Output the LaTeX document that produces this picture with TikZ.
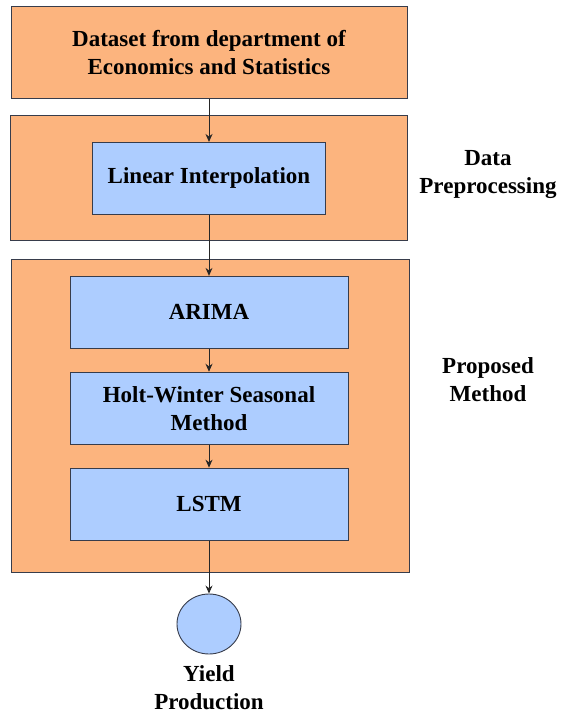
\documentclass[tikz,border=0pt]{standalone}
\usepackage{fontspec}
\setmainfont{Liberation Serif}
\usetikzlibrary{positioning}
\usetikzlibrary{arrows.meta}
\usetikzlibrary{calc, shapes, fit, backgrounds}
\definecolor{boxOrange}{RGB}{252,180,126}
\definecolor{boxBlue}{RGB}{173,205,255}
\definecolor{edgeGray}{RGB}{55,60,75}
\tikzset{%
	% Specifications for style of nodes:
	base/.style = {rectangle, draw=edgeGray, line width=0.9pt,
		inner sep=0pt, text centered, align=center,
		font=\fontsize{23}{28}\selectfont\bfseries},
	outerStage/.style = {base, fill=boxOrange},
	innerStep/.style = {base, fill=boxBlue, minimum width=278pt, minimum height=72pt},
	sideLabel/.style = {align=center, font=\fontsize{23}{28}\selectfont\bfseries},
	flow/.style = {-{Stealth[length=8pt,width=7pt]}, line width=0.9pt, draw=black!85},
}
\begin{document}
\begin{tikzpicture}[x=1pt, y=1pt]
\useasboundingbox (0,0) rectangle (561,-717);

\node (dataset) [outerStage, minimum width=396pt, minimum height=92pt] at (209,-52.5) {Dataset from department of\\Economics and Statistics};
\node (interp) [innerStep, minimum width=233pt, below=43pt of dataset] {Linear Interpolation};
\node (arima) [innerStep, below=61pt of interp] {ARIMA};
\node (holt) [innerStep, below=23pt of arima] {Holt-Winter Seasonal\\Method};
\node (lstm) [innerStep, below=23pt of holt] {LSTM};
\node (yield) [ellipse, draw=edgeGray, line width=0.9pt, fill=boxBlue, minimum width=64pt, minimum height=60pt, below=53pt of lstm] {};
\node (yieldText) [sideLabel, below=8pt of yield] {Yield\\Production};

\coordinate (prepNW) at ($(dataset.south west)+(0,-16)$);
\coordinate (prepSE) at ($(dataset.south east)+(0,-141)$);
\coordinate (propNW) at ($(arima.north west)+(-58,16)$);
\coordinate (propSE) at ($(lstm.south east)+(61,-32)$);
\begin{scope}[on background layer]
	\node (prepBox) [outerStage, fit=(prepNW)(prepSE)] {};
	\node (propBox) [outerStage, fit=(propNW)(propSE)] {};
\end{scope}

\node (prepText) [sideLabel] at (488,-175) {Data\\Preprocessing};
\node (propText) [sideLabel] at (488,-380) {Proposed\\Method};

\draw[flow] (dataset) -- (interp);
\draw[flow] (interp) -- (arima);
\draw[flow] (arima) -- (holt);
\draw[flow] (holt) -- (lstm);
\draw[flow] (lstm) -- (yield);
\end{tikzpicture}
\end{document}
